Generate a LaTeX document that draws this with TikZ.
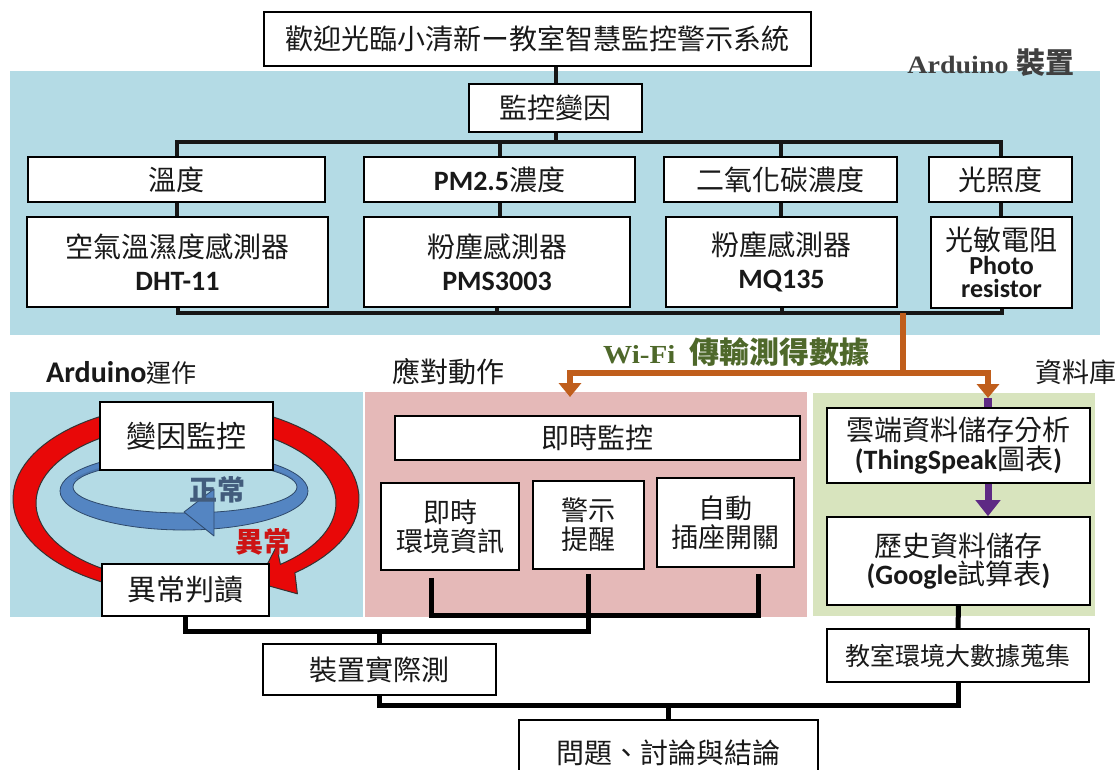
\documentclass[tikz,border=0pt]{standalone}
\usepackage{fontspec}
\setmainfont{Noto Sans CJK TC}
\newfontfamily\carl{Carlito}
\newfontfamily\wserif[FakeStretch=1.12]{Liberation Serif}
\usetikzlibrary{arrows.meta,calc}

\definecolor{panelblue}{RGB}{180,219,229}
\definecolor{panelpink}{RGB}{229,185,184}
\definecolor{panelgreen}{RGB}{216,228,190}
\definecolor{wirecol}{RGB}{22,22,22}
\definecolor{wifiorange}{RGB}{192,94,28}
\definecolor{dbpurple}{RGB}{94,42,132}
\definecolor{ringred}{RGB}{232,8,8}
\definecolor{ringblue}{RGB}{84,133,194}
\definecolor{wifigreen}{RGB}{78,104,42}
\definecolor{okblue}{RGB}{66,92,124}
\definecolor{alertred}{RGB}{205,20,20}

\newcommand{\lat}[1]{{\carl\bfseries #1}}
\newcommand{\fs}[2]{\fontsize{#1}{#2}\selectfont}

\begin{document}
\begin{tikzpicture}[x=1pt,y=-1pt,
  box/.style={draw=black, line width=1.6pt, fill=white, inner sep=0pt,
              align=center, text=black!90},
  wire/.style={draw=wirecol, line width=4pt, line join=miter},
  wirebig/.style={draw=black, line width=5pt, line join=miter},
  wifi/.style={draw=wifiorange, line width=5.5pt},
  dbline/.style={draw=dbpurple, line width=7pt},
  heading/.style={inner sep=0pt, text=black!90},
]
\useasboundingbox (0,0) rectangle (1120,769);
\clip (0,0) rectangle (1120,769);
\fill[white] (0,0) rectangle (1120,769);

% background panels
\fill[panelblue]  (10,71)   rectangle (1100,335);
\fill[panelblue]  (10,392)  rectangle (363,617);
\fill[panelpink]  (365,392) rectangle (807,617);
\fill[panelgreen] (813,393) rectangle (1095,616);

% panel headings
\node[heading, text=black!75] (devlabel) at (991,63)
  {{\wserif\bfseries\fs{25}{25}Arduino}\hspace{8pt}{\bfseries\fs{29}{29}裝置}};
\node[heading, anchor=west] (runlabel) at (46,373)
  {\lat{\fs{30}{30}Arduino}{\fs{25}{25}運作}};
\node[heading, font=\fs{28}{28}] (actlabel) at (448,372) {應對動作};
\node[heading, font=\fs{27}{27}] (dblabel) at (1076,372) {資料庫};
\node[heading, anchor=west, text=wifigreen] (wifilabel) at (603,352)
  {{\wserif\bfseries\fs{26}{26}Wi-Fi}\hspace{14pt}{\bfseries\fs{30}{30}傳輸測得數據}};

% title and sensor tree
\node[box, minimum width=547pt, minimum height=54pt, font=\fs{28}{34}] (title) at (537.5,39)
  {歡迎光臨小清新ー教室智慧監控警示系統};
\node[box, minimum width=173pt, minimum height=48pt, font=\fs{28}{34}] (kb) at (555.5,108) {監控變因};

\node[box, minimum width=297pt, minimum height=45pt, font=\fs{28}{34}] (t1) at (176.5,179.5) {溫度};
\node[box, minimum width=271pt, minimum height=45pt, font=\fs{28}{34}] (t2) at (499.5,179.5) {\lat{PM2.5}濃度};
\node[box, minimum width=233pt, minimum height=45pt, font=\fs{28}{34}] (t3) at (780.5,179.5) {二氧化碳濃度};
\node[box, minimum width=143pt, minimum height=45pt, font=\fs{28}{34}] (t4) at (1000.5,179.5) {光照度};

\node[box, minimum width=301pt, minimum height=90pt, font=\fs{28}{33}] (s1) at (177.5,262)
  {空氣溫濕度感測器\\ \lat{DHT-11}};
\node[box, minimum width=266pt, minimum height=90pt, font=\fs{28}{33}] (s2) at (497,262)
  {粉塵感測器\\ \lat{PMS3003}};
\node[box, minimum width=231pt, minimum height=90pt, font=\fs{28}{33}] (s3) at (781.5,262)
  {粉塵感測器\\ \lat{MQ135}};
\node[box, minimum width=141pt, minimum height=91pt, font=\fs{26}{23.5}] (s4) at (1001.5,262.5)
  {{\fs{28}{23.5}光敏電阻}\\ \lat{Photo}\\ \lat{resistor}};

\coordinate (bustop) at (0,142);
\coordinate (busbot) at (0,313);
\draw[wire] (title.south -| kb.north) -- (kb.north);
\draw[wire] (kb.south) -- (kb.south |- bustop);
\draw[wire] (t1.north) -- (t1.north |- bustop) -- (t4.north |- bustop) -- (t4.north);
\draw[wire] (t2.north) -- (t2.north |- bustop);
\draw[wire] (t3.north) -- (t3.north |- bustop);
\foreach \a/\b in {t1/s1,t2/s2,t3/s3,t4/s4}
  \draw[wire] (\a.south) -- (\a.south |- \b.north);
\draw[wire] (s1.south) -- (s1.south |- busbot) -- (s4.south |- busbot) -- (s4.south);
\draw[wire] (s2.south) -- (s2.south |- busbot);
\draw[wire] (s3.south) -- (s3.south |- busbot);

% Arduino loop: red outer ring with arrow head
\filldraw[fill=ringred, draw=black!80, line width=1pt, line join=round]
  plot[domain=-51:250, samples=90] ({186+173*cos(\x)},{499-95*sin(\x)})
  -- plot[domain=250:-51, samples=90] ({186+150*cos(\x)},{503-79*sin(\x)})
  -- (276.6,546.2) -- (257.7,582.8) -- (297.4,593.8) -- cycle;

% blue inner ring with arrow head
\filldraw[fill=ringblue, draw=ringblue!55!black, line width=0.8pt, even odd rule]
  (184,491) ellipse [x radius=124pt, y radius=39pt]
  (185,487) ellipse [x radius=112pt, y radius=26pt];
\fill[ringblue!70!black, opacity=0.35]
  plot[domain=20:160, samples=40] ({185+112*cos(\x)},{487-26*sin(\x)})
  -- plot[domain=160:20, samples=40] ({184+118*cos(\x)},{491-33*sin(\x)}) -- cycle;
\filldraw[fill=ringblue, draw=ringblue!55!black, line width=0.8pt, line join=round]
  (214,489) -- (184,512) -- (214,536) -- cycle;

\node[heading, text=okblue, font=\fs{28}{28}\bfseries] (oklabel) at (217,490) {正常};
\node[heading, text=alertred, font=\fs{28}{28}\bfseries] (alertlabel) at (263,542) {異常};

\node[box, minimum width=173pt, minimum height=68pt, font=\fs{30}{34}] (v1) at (186.5,436) {變因監控};
\node[box, minimum width=167pt, minimum height=52pt, font=\fs{29}{34}] (j1) at (185.5,590) {異常判讀};

% response actions
\node[box, minimum width=405pt, minimum height=44pt, font=\fs{28}{34}] (rt) at (597.5,438) {即時監控};
\node[box, minimum width=138pt, minimum height=87pt, font=\fs{27}{29}] (b1) at (450,526.5) {即時\\環境資訊};
\node[box, minimum width=111pt, minimum height=88pt, font=\fs{27}{29}] (b2) at (588.5,525) {警示\\提醒};
\node[box, minimum width=137pt, minimum height=89pt, font=\fs{27}{29}] (b3) at (725.5,522.5) {自動\\插座開關};

% database
\node[box, minimum width=263pt, minimum height=75pt, font=\fs{28}{29}] (cl) at (958.5,445.5)
  {雲端資料儲存分析\\ \lat{(ThingSpeak}圖表\lat{)}};
\node[box, minimum width=263pt, minimum height=88pt, font=\fs{28}{28}] (hi) at (958.5,561)
  {歷史資料儲存\\ \lat{(Google}試算表\lat{)}};
\node[box, minimum width=262pt, minimum height=53pt, font=\fs{25}{30}] (bd) at (958,655.5) {教室環境大數據蒐集};

% results
\node[box, minimum width=233pt, minimum height=51pt, font=\fs{28}{34}] (m1) at (379.5,669.5) {裝置實際測};
\node[box, minimum width=299pt, minimum height=65pt, font=\fs{28}{34}] (q) at (668.5,752.5) {問題、討論與結論};

% Wi-Fi data transfer
\coordinate (wifisrc) at (903,313);
\coordinate (wifijoin) at (903,373);
\coordinate (actin) at (570,397);
\coordinate (dbin) at (988,398);
\draw[wifi] (wifisrc) -- (wifijoin);
\draw[wifi, -{Triangle[width=22pt,length=14pt]}] (wifijoin) -| (actin);
\draw[wifi, -{Triangle[width=22pt,length=14pt]}] (wifijoin) -| (dbin);
\draw[dbpurple, line width=8pt] (dbin) -- (dbin |- cl.north);
\draw[dbline, -{Triangle[width=24pt,length=16pt]}] (cl.south -| dbin) -- (hi.north -| dbin);

% lower connectors
\coordinate (pinkbus) at (0,615);
\coordinate (lowbus) at (0,631);
\coordinate (lastbus) at (0,705);
\coordinate (b1w) at ($(b1.south)+(-19,7)$);
\coordinate (b3w) at ($(b3.south)+(32.5,6)$);
\draw[wirebig] (b1w) -- (b1w |- pinkbus) -- (b3w |- pinkbus) -- (b3w);
\draw[wirebig] ($(b2.south)+(0,4)$) -- (b2.south |- lowbus) -- (j1.south |- lowbus) -- (j1.south);
\draw[wirebig] (m1.north) -- (m1.north |- lowbus);
\draw[wirebig] (m1.south) -- (m1.south |- lastbus) -- (bd.south |- lastbus) -- (bd.south);
\draw[wirebig] (q.north) -- (q.north |- lastbus);
\draw[wirebig] (hi.south) -- (bd.north);
\end{tikzpicture}
\end{document}
